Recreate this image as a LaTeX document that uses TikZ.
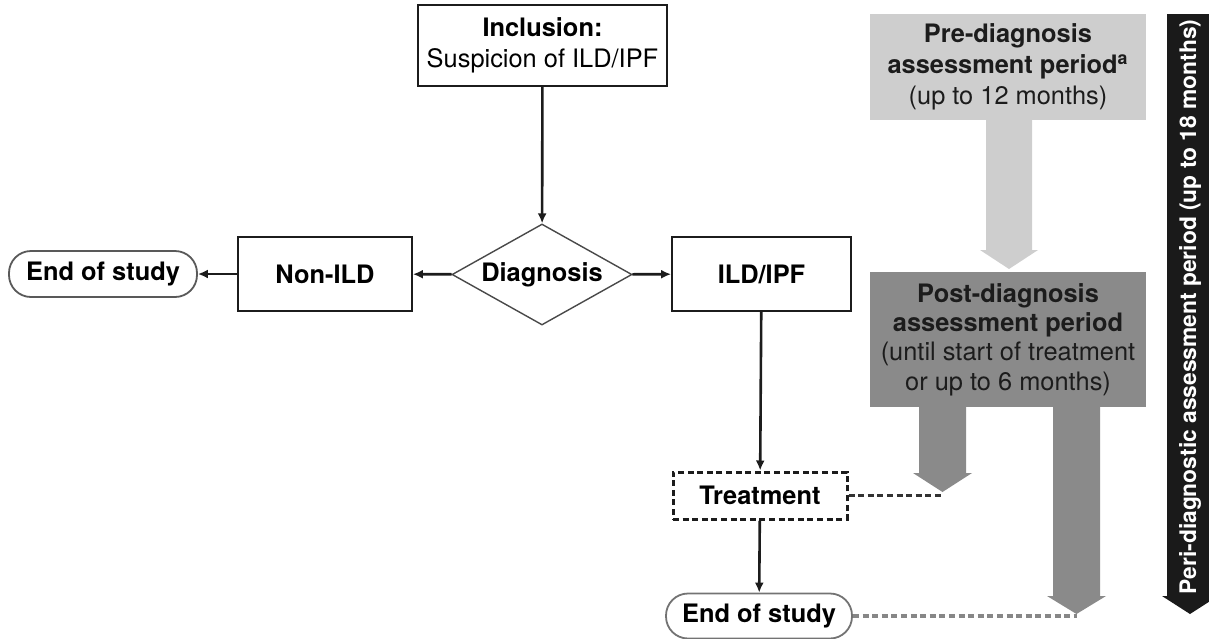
\documentclass[tikz,border=0pt]{standalone}
\usepackage{fontspec}
\setmainfont{TeX Gyre Heros}
\usetikzlibrary{shapes.geometric,arrows.meta,calc}
\definecolor{inkdk}{RGB}{28,28,28}
\definecolor{pregray}{RGB}{206,206,206}
\definecolor{postgray}{RGB}{138,138,138}
\definecolor{perigray}{RGB}{26,26,26}
\definecolor{dashgray}{RGB}{135,135,135}

\tikzset{
    flowbox/.style={draw=inkdk,line width=0.9pt,align=center,inner sep=0pt,
      minimum width=87pt,minimum height=37pt,font=\bfseries},
    endpill/.style={draw=black!65,line width=0.9pt,rounded corners=11pt,inner sep=0pt,
      minimum width=93pt,minimum height=22.5pt,font=\bfseries},
    decision/.style={diamond,draw=inkdk!80,line width=0.7pt,aspect=1.8,inner sep=0pt,
      minimum width=90pt,minimum height=50.5pt,font=\bfseries},
    periodbox/.style={align=center,inner sep=0pt,minimum width=138pt,text=inkdk},
    flowarrow/.style={draw=inkdk,line width=1.3pt,-{Latex[length=5pt,width=4.5pt]}},
    linkdash/.style={line width=1.6pt,dash pattern=on 3pt off 1.8pt}
}

\begin{document}
\begin{tikzpicture}[x=0.5pt,y=-0.5pt,
    every node/.append style={font=\fontsize{12.7}{15.5}\selectfont}]

    \useasboundingbox (0,0) rectangle (1209,638);

    % 流程主干

    \node[flowbox,font=\fontsize{12.7}{15.5}\selectfont,minimum width=124.5pt,minimum height=40.5pt]
      (incl) at (542.5,45.5) {\textbf{Inclusion:}\\Suspicion of ILD/IPF};

    \node[decision,font=\fontsize{12.7}{15.5}\selectfont\bfseries] (diag) at (542,274.5) {Diagnosis};

    \node[flowbox,font=\fontsize{12.7}{15.5}\selectfont\bfseries] (nonild) at (325,274) {Non-ILD};

    \node[flowbox,font=\fontsize{12.7}{15.5}\selectfont\bfseries,minimum width=89.5pt] (ild) at (761.5,274) {ILD/IPF};

    \node[endpill,font=\fontsize{12.7}{15.5}\selectfont\bfseries,minimum width=94pt,minimum height=23pt]
      (endl) at (103,274) {End of study};

    \node[flowbox,font=\fontsize{12.7}{15.5}\selectfont\bfseries,minimum height=23.5pt,
      dash pattern=on 3pt off 1.8pt,line width=1.5pt] (treat) at (760,495.5) {Treatment};

    \node[endpill,font=\fontsize{12.7}{15.5}\selectfont\bfseries,draw=black!55] (endr) at (759,616) {End of study};

    % 连接箭头

    \draw[flowarrow] (incl) -- (diag);
    \draw[flowarrow] (diag) -- (nonild);
    \draw[flowarrow] (nonild) -- (endl);
    \draw[flowarrow] (diag) -- (ild);
    \draw[flowarrow] (ild) -- (treat);
    \draw[flowarrow] (treat) -- (endr);

    % 评估期方框

    \node[periodbox,fill=pregray,minimum height=53pt] (pre) at (1008,67)
      {\textbf{Pre-diagnosis}\\\textbf{assessment period\textsuperscript{a}}\\(up to 12 months)};

    \node[periodbox,fill=postgray,minimum height=67.5pt,font=\fontsize{12.7}{14.6}\selectfont] (post) at (1008,339.5)
      {\textbf{Post-diagnosis}\\\textbf{assessment period}\\(until start of treatment\\or up to 6 months)};

    % 粗箭头

    \fill[pregray] (986,120) -- (1032,120) -- (1032,250) -- (1038,250)
      -- (1009,269) -- (980,250) -- (986,250) -- cycle;

    \fill[postgray] (919,407) -- (966,407) -- (966,473) -- (972,473)
      -- (942.5,492) -- (913,473) -- (919,473) -- cycle;

    \fill[postgray] (1053,407) -- (1100,407) -- (1100,596) -- (1106,596)
      -- (1076.5,614) -- (1047,596) -- (1053,596) -- cycle;

    \fill[perigray] (1167,14) -- (1214,14) -- (1214,596) -- (1218,596)
      -- (1190,614) -- (1162,596) -- (1167,596) -- cycle;

    \node[rotate=90,text=white,font=\fontsize{11.4}{14}\selectfont\bfseries] (peri) at (1190,307)
      {Peri-diagnostic assessment period (up to 18 months)};

    % 虚线连接

    \coordinate (shorttip) at (942.5,494);
    \coordinate (longtip) at (1076.5,616);

    \draw[linkdash,draw=inkdk!90] (treat.east) -- (treat.east -| shorttip);
    \draw[linkdash,draw=dashgray] (endr.east) -- (endr.east -| longtip);

\end{tikzpicture}
\end{document}
